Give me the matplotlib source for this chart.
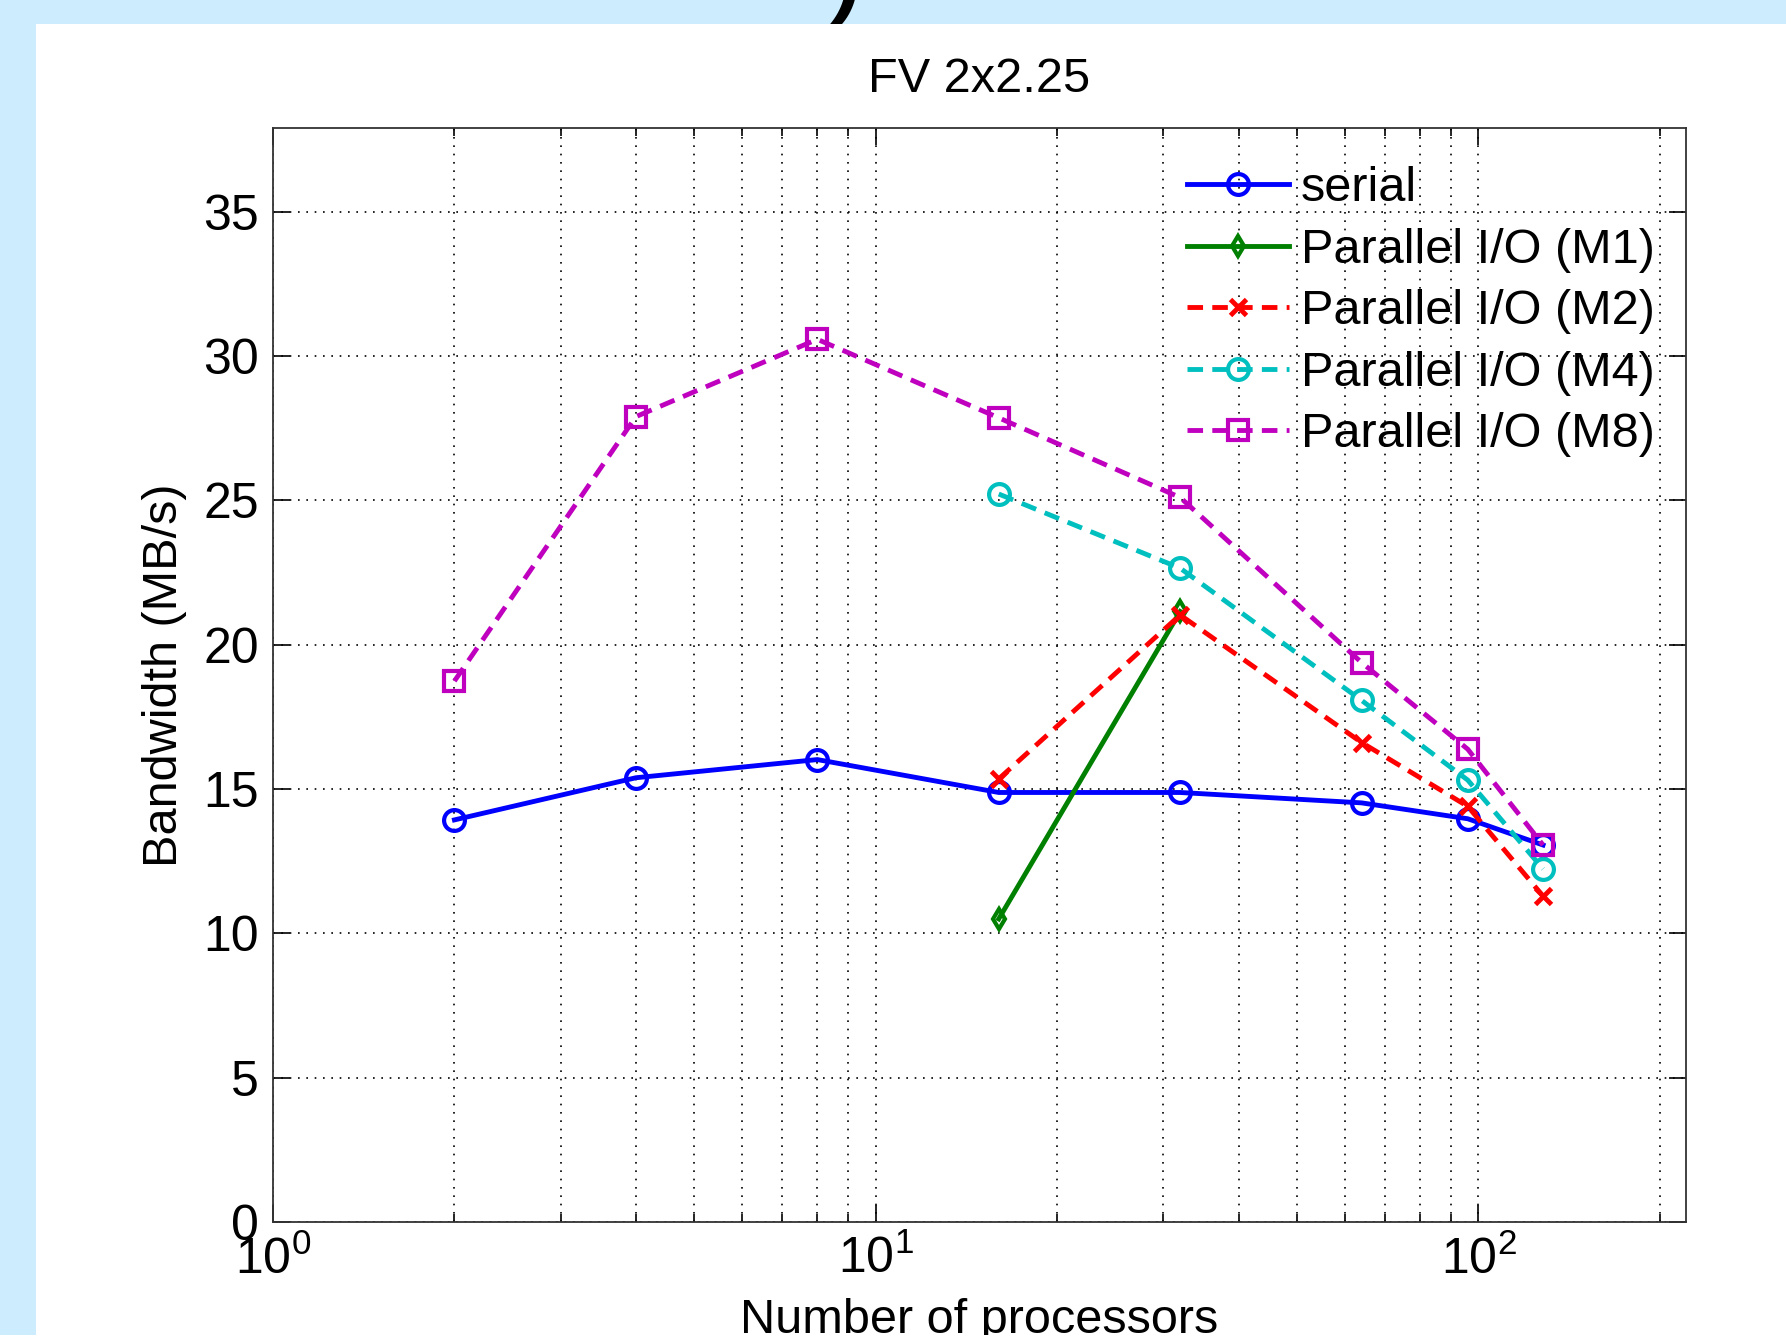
import numpy as np
import matplotlib
matplotlib.use('Agg')
import matplotlib.pyplot as plt
from matplotlib.patches import Rectangle
from matplotlib.ticker import LogLocator, NullFormatter

plt.rcParams['font.family'] = ['Liberation Sans', 'DejaVu Sans']
plt.rcParams['mathtext.fontset'] = 'custom'
plt.rcParams['mathtext.rm'] = 'Liberation Sans'
plt.rcParams['mathtext.it'] = 'Liberation Sans'

# datos
procs = [2, 4, 8, 16, 32, 64, 96, 128]
serial = [13.93, 15.39, 16.02, 14.88, 14.88, 14.52, 13.97, 13.06]
procs_m1 = [16, 32]
m1 = [10.5, 21.15]
procs_m = [16, 32, 64, 96, 128]
m2 = [15.35, 21.03, 16.61, 14.4, 11.29]
m4 = [25.22, 22.65, 18.07, 15.31, 12.23]
m8 = [18.74, 27.9, 30.58, 27.86, 25.1, 19.38, 16.38, 13.06]

fig = plt.figure(figsize=(17.86, 13.35), dpi=100)
fig.patch.set_facecolor('#cdedfe')
fig.text(845/1786, 1-30/1335, ')', fontsize=60, ha='center', va='bottom', style='italic',
         fontweight='bold', zorder=-3)
fig.patches.append(Rectangle((36/1786, 0), 1, (1335-24)/1335, transform=fig.transFigure,
                             facecolor='white', edgecolor='none', zorder=-2))

ax = fig.add_axes([273/1786, 1-1222/1335, (1686-273)/1786, (1222-128)/1335])
ax.set_zorder(2)
lw = 3.5
dsh = (3.2, 1.9)
ax.plot(procs, serial, '-o', color=(0, 0, 1), lw=lw, ms=15, mew=3, mfc='none', label='serial')
ax.plot(procs_m1, m1, '-d', color=(0, 0.5, 0), lw=lw, ms=10, mew=3, mfc='none', label='Parallel I/O (M1)')
ax.plot(procs_m, m2, '--x', color=(1, 0, 0), lw=lw, ms=12, mew=3.5, label='Parallel I/O (M2)', dashes=dsh)
ax.plot(procs_m, m4, '--o', color=(0, 0.75, 0.75), lw=lw, ms=15, mew=3, mfc='none', label='Parallel I/O (M4)', dashes=dsh)
ax.plot(procs, m8, '--s', color=(0.75, 0, 0.75), lw=lw, ms=14, mew=3, mfc='none', label='Parallel I/O (M8)', dashes=dsh)

ax.set_xscale('log')
ax.set_xlim(1, 221)
ax.set_ylim(0, 37.9)
ax.set_yticks(np.arange(0, 36, 5))
ax.xaxis.set_minor_locator(LogLocator(base=10, subs=np.arange(2, 10), numticks=20))
ax.xaxis.set_minor_formatter(NullFormatter())
ax.set_xticks([1, 10, 100])
ax.set_xticklabels(['$10^0$', '$10^1$', '$10^2$'])
ax.grid(True, which='major', color='k', linestyle=(0, (1, 4)), linewidth=1.2)
ax.grid(True, which='minor', axis='x', color='k', linestyle=(0, (1, 4)), linewidth=1.2)
ax.tick_params(which='both', direction='in', top=True, right=True, labelsize=36, width=1.2)
ax.tick_params(which='major', length=12)
ax.tick_params(which='minor', length=6)
ax.tick_params(axis='x', pad=10)
ax.tick_params(axis='y', pad=10)
for s in ax.spines.values():
	s.set_linewidth(1.3)
	s.set_color('#333333')

ax.set_title('FV 2x2.25', fontsize=35, pad=26)
ax.set_xlabel('Number of processors', fontsize=35, labelpad=10)
ax.set_ylabel('Bandwidth (MB/s)', fontsize=35, labelpad=12)

ax.legend(loc='upper right', fontsize=35, frameon=False, handlelength=2.1, handletextpad=0.25,
          labelspacing=0.34, borderaxespad=0.0, borderpad=0.0, bbox_to_anchor=(0.978, 0.965))

plt.savefig('out.png', dpi=100, facecolor=fig.get_facecolor())
